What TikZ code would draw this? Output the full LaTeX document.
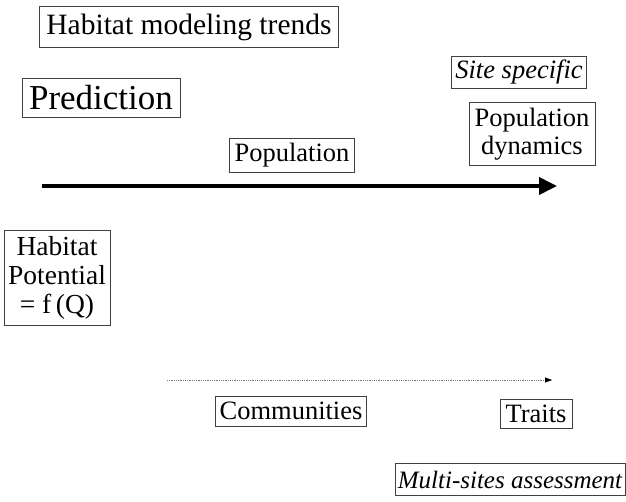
\documentclass[tikz,border=0pt]{standalone}
\usepackage{fontspec}
\setmainfont{Liberation Serif}
\usetikzlibrary{arrows.meta}
\usetikzlibrary{positioning}

\tikzset{
  box/.style={draw=black!75, line width=0.7pt, inner sep=5.5pt, align=center,
    font=\fontsize{26.5}{28}\selectfont},
  ibox/.style={box, font=\fontsize{26.5}{28}\selectfont\itshape}
}

\begin{document}
\begin{tikzpicture}[x=1pt, y=-1pt]
  \useasboundingbox (0,0) rectangle (626,501);

  \node[box, inner sep=7pt, font=\fontsize{29.5}{33}\selectfont] (trends) at (189,27) {Habitat modeling trends};
  \node[box, inner sep=7pt, font=\fontsize{35}{38}\selectfont] (pred) at (101,98) {Prediction};
  \node[ibox, inner sep=4pt] (site) at (519,72) {Site specific};
  \node[box] (dyn) at (532,134) {Population\\dynamics};
  \node[box, inner sep=5pt] (pop) at (292,155) {Population};
  \node[box, inner sep=4pt, inner ysep=6pt, font=\fontsize{27.5}{29}\selectfont] (hab) at (57,278) {Habitat\\Potential\\= f\,(Q)};
  \node[box, inner xsep=4pt, inner ysep=6pt] (comm) at (291,411) {Communities};
  \node[box] (traits) at (536,414) {Traits};
  \node[ibox, anchor=east, inner xsep=3pt, inner ysep=7pt, font=\fontsize{25}{28}\selectfont\itshape] (multi) at (625.5,479.5) {Multi-sites assessment};

  % arrows
  \coordinate (a1) at (42,186);
  \coordinate (a2) at (557,186);
  \coordinate (b1) at (167,380);
  \coordinate (b2) at (552,380);
  \draw[line width=3.8pt, -{Triangle[length=18pt,width=17pt]}] (a1) -- (a2);
  \draw[black!55, densely dotted, line width=0.8pt] (b1) -- (b2);
  \draw[-{Triangle[length=7pt,width=5pt]}] ([xshift=-2pt]b2) -- (b2);
\end{tikzpicture}
\end{document}
